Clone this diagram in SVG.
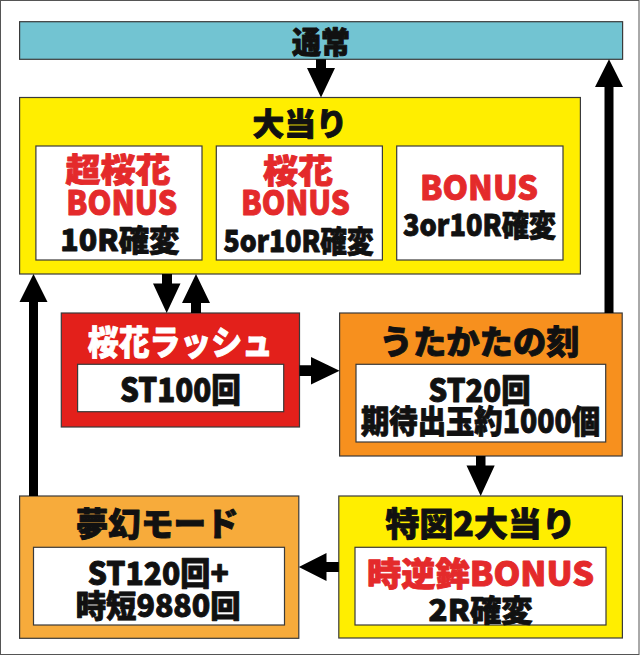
<svg xmlns="http://www.w3.org/2000/svg" width="640" height="656" viewBox="0 0 640 656">
<style>
.box{stroke:#3a3a3a;stroke-width:1.2}
.inner{fill:#fff;stroke:#3a3a3a;stroke-width:1.2}
.t{font-family:"Noto Sans CJK JP","Noto Sans",sans-serif;font-weight:900;text-anchor:middle;dominant-baseline:central;fill:#111;stroke:#111;stroke-width:0.9;stroke-linejoin:round}
.red{fill:#e42a2b;stroke:#e42a2b}
.wht{fill:#fff;stroke:#fff}
.arrow{fill:#000}
</style>
<rect x="0.5" y="0.5" width="638.5" height="654" fill="#fff" stroke="#555" stroke-width="1"/>

<g id="tsujo">
<rect class="box" x="19.6" y="21.7" width="603" height="37.6" fill="#72c4d2"/>
<text class="t" x="321" y="40" font-size="30" textLength="58" lengthAdjust="spacingAndGlyphs">通常</text>
</g>

<g id="oatari">
<rect class="box" x="19.6" y="97.5" width="560.8" height="176.5" fill="#ffee00"/>
<text class="t" x="300" y="121" font-size="31" textLength="95" lengthAdjust="spacingAndGlyphs">大当り</text>
<rect class="inner" x="35.9" y="146" width="166.1" height="114"/>
<text class="t red" x="118" y="168" font-size="33" textLength="105" lengthAdjust="spacingAndGlyphs">超桜花</text>
<text class="t red" x="121.7" y="201" font-size="33" textLength="111" lengthAdjust="spacingAndGlyphs">BONUS</text>
<text class="t" x="119.8" y="238" font-size="30" textLength="119" lengthAdjust="spacingAndGlyphs">10R確変</text>
<rect class="inner" x="216.3" y="146" width="166.1" height="114"/>
<text class="t red" x="298" y="168.5" font-size="33" textLength="70" lengthAdjust="spacingAndGlyphs">桜花</text>
<text class="t red" x="295.5" y="201" font-size="33" textLength="109" lengthAdjust="spacingAndGlyphs">BONUS</text>
<text class="t" x="298.6" y="238.5" font-size="30" textLength="150" lengthAdjust="spacingAndGlyphs">5or10R確変</text>
<rect class="inner" x="396.7" y="146" width="166.3" height="114"/>
<text class="t red" x="479" y="185.5" font-size="34" textLength="118" lengthAdjust="spacingAndGlyphs">BONUS</text>
<text class="t" x="479.5" y="222.5" font-size="30" textLength="153" lengthAdjust="spacingAndGlyphs">3or10R確変</text>
</g>

<g id="ouka-rush">
<rect class="box" x="61.3" y="313" width="238.2" height="114" fill="#e3201b"/>
<text class="t wht" x="180.3" y="340" font-size="34" textLength="185" lengthAdjust="spacingAndGlyphs">桜花ラッシュ</text>
<rect class="inner" x="77.6" y="364.3" width="206.1" height="47.4"/>
<text class="t" x="180.5" y="388" font-size="33" textLength="121" lengthAdjust="spacingAndGlyphs">ST100回</text>
</g>

<g id="utakata">
<rect class="box" x="339.6" y="313" width="282.6" height="143" fill="#f7901e"/>
<text class="t" x="479.6" y="340" font-size="33" textLength="200" lengthAdjust="spacingAndGlyphs">うたかたの刻</text>
<rect class="inner" x="356" y="364.3" width="249.7" height="77.7"/>
<text class="t" x="479.6" y="388.3" font-size="32" textLength="102" lengthAdjust="spacingAndGlyphs">ST20回</text>
<text class="t" x="480.5" y="418.5" font-size="32" textLength="239" lengthAdjust="spacingAndGlyphs">期待出玉約1000個</text>
</g>

<g id="mugen">
<rect class="box" x="19.6" y="496" width="279.2" height="142.3" fill="#f7ab3b"/>
<text class="t" x="157.2" y="522.4" font-size="33" textLength="163" lengthAdjust="spacingAndGlyphs">夢幻モード</text>
<rect class="inner" x="33.5" y="547.3" width="251" height="77.7"/>
<text class="t" x="158.2" y="570.5" font-size="32" textLength="141" lengthAdjust="spacingAndGlyphs">ST120回+</text>
<text class="t" x="158.2" y="603" font-size="31" textLength="165" lengthAdjust="spacingAndGlyphs">時短9880回</text>
</g>

<g id="tokuzu2">
<rect class="box" x="338.8" y="496" width="283.6" height="142" fill="#ffee00"/>
<text class="t" x="480.6" y="522.4" font-size="33" textLength="190" lengthAdjust="spacingAndGlyphs">特図2大当り</text>
<rect class="inner" x="355" y="547.3" width="251" height="77.7"/>
<text class="t red" x="480.5" y="571.7" font-size="33" textLength="227" lengthAdjust="spacingAndGlyphs">時逆鉾BONUS</text>
<text class="t" x="480.6" y="608.3" font-size="30" textLength="104" lengthAdjust="spacingAndGlyphs">2R確変</text>
</g>

<g id="connectors">
<path class="arrow" d="M316,59.3 H326 V68 H335 L321,97.5 L307,68 H316 Z"/>
<path class="arrow" d="M162,274 H172 V283.5 H180.5 L166.7,313 L153,283.5 H162 Z"/>
<path class="arrow" d="M191,313 H201 V303 H210 L196,274 L182,303 H191 Z"/>
<path class="arrow" d="M299.5,365.3 H311 V357 L339.6,370.7 L311,384.4 V376 H299.5 Z"/>
<path class="arrow" d="M604.5,313 H613.5 V87 H623 L609,59.3 L595,87 H604.5 Z"/>
<path class="arrow" d="M476,456 H485.5 V465.5 H494.7 L480.7,496 L466.5,465.5 H476 Z"/>
<path class="arrow" d="M338.8,562 V572 H326.5 V581 L298.8,567 L326.5,553 V562 Z"/>
<path class="arrow" d="M29,496 H38 V302 H47.5 L33.5,274 L19.5,302 H29 Z"/>
</g>
</svg>
